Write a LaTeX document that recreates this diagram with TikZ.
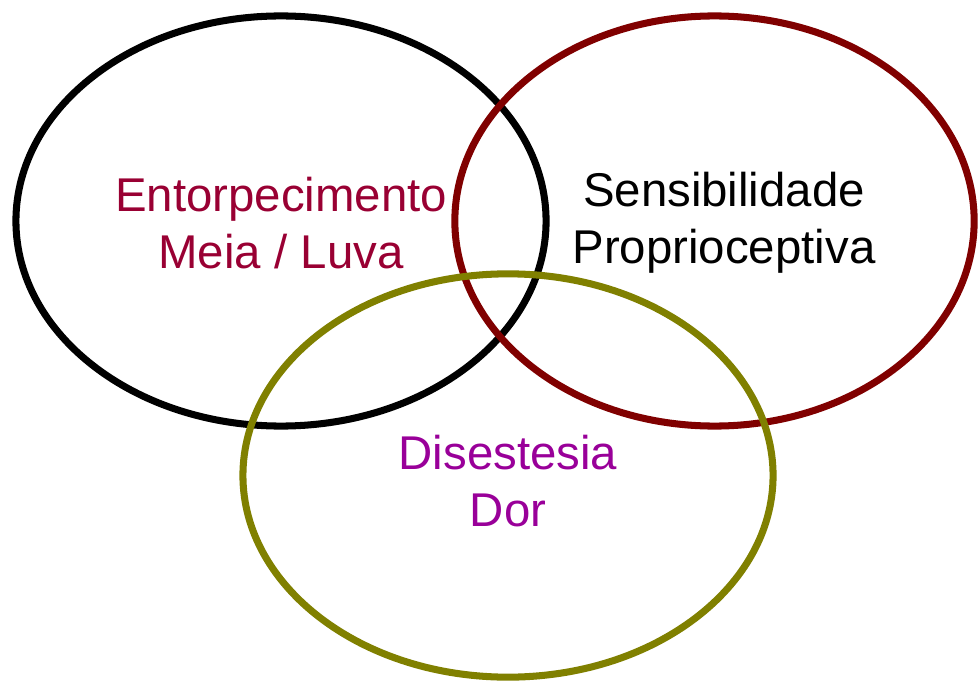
\documentclass[tikz,border=0pt]{standalone}
\usepackage{fontspec}
\setmainfont{Liberation Sans}
\usepackage{xcolor}
\usepackage{tikz}
\usetikzlibrary{shapes,positioning}
\definecolor{darkred}{HTML}{800000}
\definecolor{olive}{HTML}{808000}
\definecolor{wine}{HTML}{990033}
\definecolor{purple}{HTML}{990099}
\tikzset{
  every picture/.style = {
    x = 0.025cm,
    y = -0.025cm,
  }
  ,
  set/.style = {
    ellipse,
    draw,
    line width = 5pt,
    inner sep = 0pt,
    outer sep = 0pt
  }
  , % labels of sets
  label-set/.style = {
    align = center,
    font = \fontsize{33.7}{40.4}\selectfont,
    inner sep = 0pt
  }
}
\begin{document}
\begin{tikzpicture}
    \useasboundingbox (0,0) rectangle (978,682);
    \node [set, minimum width = 13.25cm, minimum height = 10.25cm] (numb) at (281,221) {};
    \node [set, darkred, minimum width = 12.98cm, minimum height = 10.25cm] (prop) at (714.5,221) {};
    \node [set, olive, minimum width = 13.25cm, minimum height = 10.08cm] (pain) at (508,475.5) {};
    \node [label-set, wine] (numb-text) at (281,223) {Entorpecimento\\Meia / Luva};
    \node [label-set] (prop-text) at (724,223) {Sensibilidade\\Proprioceptiva};
    \node [label-set, purple] (pain-text) at (508,481) {Disestesia\\Dor};
\end{tikzpicture}
\end{document}
